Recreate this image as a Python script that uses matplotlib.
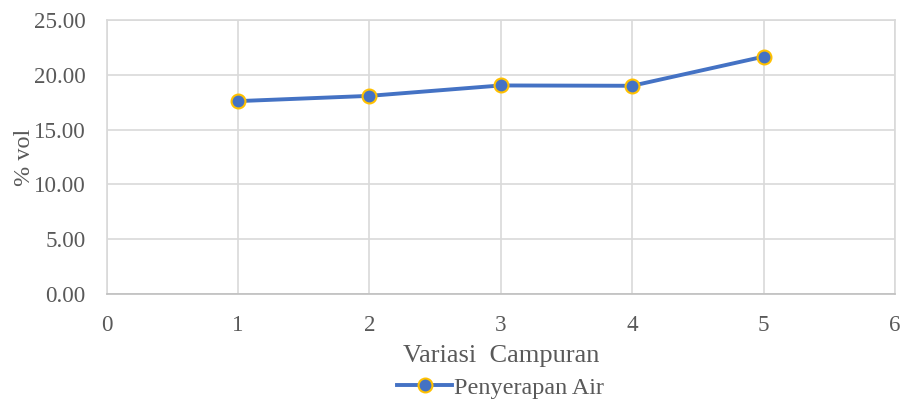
import matplotlib
matplotlib.use('Agg')
import matplotlib.pyplot as plt
from matplotlib.ticker import FormatStrFormatter

# water absorption per mix variation
variasi = [1, 2, 3, 4, 5]
penyerapan = [17.60, 18.08, 19.03, 19.00, 21.66]

x_ticks = [0, 1, 2, 3, 4, 5, 6]
y_ticks = [0, 5, 10, 15, 20, 25]

plt.rcParams['font.family'] = ['Liberation Serif', 'DejaVu Serif']
text_color = '#595959'
grid_color = '#D9D9D9'

fig = plt.figure(figsize=(9.04, 4.01), dpi=100)
ax = fig.add_axes([0.118, 0.267, 0.872, 0.683])

ax.plot(variasi, penyerapan, color='#4472C4', linewidth=2.8,
        marker='o', markersize=10, markerfacecolor='#4472C4',
        markeredgecolor='#FFC000', markeredgewidth=1.5,
        label='Penyerapan Air', zorder=3)

ax.set_xlim(0, 6)
ax.set_ylim(0, 25)
ax.set_xticks(x_ticks)
ax.set_yticks(y_ticks)
ax.yaxis.set_major_formatter(FormatStrFormatter('%.2f'))
ax.grid(True, color=grid_color, linewidth=1.2)
ax.set_axisbelow(True)
for side in ax.spines.values():
    side.set_color(grid_color)
    side.set_linewidth(1.2)
ax.spines['bottom'].set_color('#BFBFBF')
ax.tick_params(length=0, labelsize=16.6, colors=text_color)
ax.tick_params(axis='y', pad=15)
ax.tick_params(axis='x', pad=15)

ax.set_xlabel('Variasi  Campuran', fontsize=19, color=text_color, labelpad=7)
ax.set_ylabel('% vol', fontsize=17.5, color=text_color, labelpad=-1)

ax.legend(loc='upper center', bbox_to_anchor=(0.5, -0.268), frameon=False,
          fontsize=17.4, labelcolor=text_color, handlelength=2.25,
          handletextpad=0.1, borderaxespad=0)

fig.savefig('out.png', dpi=100)
